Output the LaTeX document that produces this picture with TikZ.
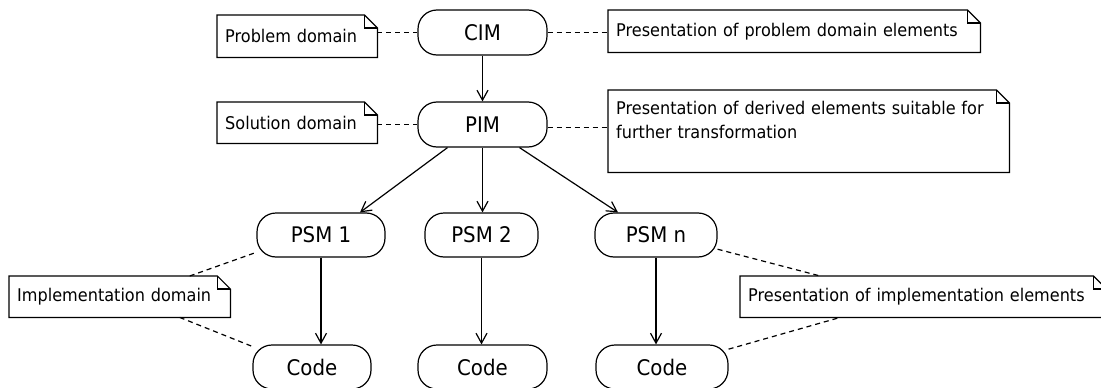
\documentclass[tikz,border=0pt]{standalone}
\usepackage{fontspec}
\setmainfont{DejaVu Sans}[FakeStretch=0.92]
\usetikzlibrary{arrows.meta}

\tikzset{
  base/.style={line width=1.2pt, draw=black},
  pill/.style={base, draw, rounded corners=19pt, minimum height=44pt,
    inner sep=0pt, font=\fontsize{21.5}{24}\selectfont},
  notebox/.style={inner xsep=8pt, inner ysep=0pt, minimum height=42pt,
    anchor=north west, align=left, font=\fontsize{17.5}{24}\selectfont,
    append after command={\pgfextra{\let\LN\tikzlastnode
      \draw[base, line join=miter]
        (\LN.south west) -- (\LN.north west) -- ([xshift=-13pt]\LN.north east)
        -- ([yshift=-13pt]\LN.north east) -- (\LN.south east) -- cycle;
      \draw[base] ([xshift=-13pt]\LN.north east) |- ([yshift=-13pt]\LN.north east);}}},
  flow/.style={base, -{Straight Barb[length=10pt,width=11pt]}},
  link/.style={base, dash pattern=on 5pt off 4pt}
}

\begin{document}
\begin{tikzpicture}[x=1pt, y=-1pt]
\useasboundingbox (0,0) rectangle (1101,388);
\clip (0,0) rectangle (1101,388);
\fill[white] (0,0) rectangle (1101,388);

% model levels
\node[pill, minimum width=129pt, minimum height=45pt] (cim) at (482.5,32.5) {CIM};
\node[pill, minimum width=129pt, minimum height=45pt] (pim) at (482.5,124.5) {PIM};
\node[pill, minimum width=128pt] (psm1) at (321,235) {PSM 1};
\node[pill, minimum width=113pt] (psm2) at (481.5,235) {PSM 2};
\node[pill, minimum width=122pt] (psmn) at (656,235) {PSM n};
\node[pill, minimum width=118pt] (code1) at (312,367) {Code};
\node[pill, minimum width=129pt] (code2) at (482.5,367) {Code};
\node[pill, minimum width=132pt] (coden) at (662,367) {Code};

% annotations
\node[notebox, text width=144pt] (pd) at (217,15) {Problem domain};
\node[notebox, text width=144pt, minimum height=41pt] (sd) at (217,102) {Solution domain};
\node[notebox, text width=356pt] (ppd) at (608,10) {Presentation of problem domain elements};
\node[notebox, text width=385pt, minimum height=0pt, inner ysep=11pt,
      text height=13pt, text depth=47pt] (pde) at (608,90)
  {Presentation of derived elements suitable for\\further transformation};
\node[notebox, text width=205pt, minimum height=41pt] (impl) at (9,276) {Implementation domain};
\node[notebox, text width=350pt, minimum height=41pt] (pie) at (740,276) {Presentation of implementation elements};

% transformations
\draw[flow] (cim.south) -- (pim.north);
\draw[flow] ([xshift=-35pt]pim.south) -- ([xshift=39pt]psm1.north);
\draw[flow] (pim.south) -- (pim.south |- psm2.north);
\draw[flow] ([xshift=37pt]pim.south) -- ([xshift=-38pt]psmn.north);
\draw[flow] (psm1.south) -- (psm1.south |- code1.north);
\draw[flow] (psm2.south) -- (psm2.south |- code2.north);
\draw[flow] (psmn.south) -- (psmn.south |- coden.north);

% note links
\draw[link] (pd.east |- cim.west) -- (cim.west);
\draw[link] (sd.east |- pim.west) -- (pim.west);
\draw[link] (cim.east) -- (cim.east -| ppd.west);
\draw[link] ([yshift=-3pt]pim.east) -- ([yshift=-3pt]pim.east -| pde.west);
\draw[link] ([xshift=70pt]impl.north) -- (psm1.195);
\draw[link] ([xshift=60pt]impl.south) -- (code1.161);
\draw[link] (psmn.-13) -- ([xshift=-103pt]pie.north);
\draw[link] (coden.15) -- ([xshift=-83pt]pie.south);
\end{tikzpicture}
\end{document}
